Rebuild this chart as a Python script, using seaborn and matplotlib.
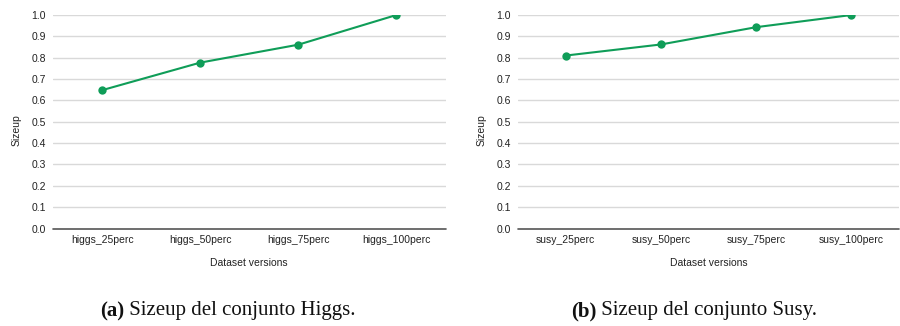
import matplotlib
matplotlib.use("Agg")
import matplotlib.pyplot as plt
import seaborn as sns
import pandas as pd

# Sizeup values per dataset version
higgs_versions = ["higgs_25perc", "higgs_50perc", "higgs_75perc", "higgs_100perc"]
higgs_sizeup = [0.648, 0.777, 0.861, 1.0]

susy_versions = ["susy_25perc", "susy_50perc", "susy_75perc", "susy_100perc"]
susy_sizeup = [0.810, 0.862, 0.943, 1.0]

y_ticks = [0.0, 0.1, 0.2, 0.3, 0.4, 0.5, 0.6, 0.7, 0.8, 0.9, 1.0]
captions = [("(a)", " Sizeup del conjunto Higgs."), ("(b)", " Sizeup del conjunto Susy.")]

sns.set_theme(style="white")
plt.rcParams["font.family"] = ["Liberation Sans", "DejaVu Sans"]

GREEN = "#0f9d58"
GRID = "#d9d9d9"
TEXT = "#222222"
SERIF = ["Liberation Serif", "DejaVu Serif"]

fig = plt.figure(figsize=(9, 3.26), dpi=100)
axes_boxes = [
    [0.059, 0.299, 0.436, 0.655],
    [0.5756, 0.299, 0.4234, 0.655],
]
panels = [(higgs_versions, higgs_sizeup), (susy_versions, susy_sizeup)]

for box, (versions, values) in zip(axes_boxes, panels):
    ax = fig.add_axes(box)
    df = pd.DataFrame({"version": versions, "sizeup": values})
    sns.lineplot(data=df, x="version", y="sizeup", ax=ax, color=GREEN,
                 linewidth=1.5, marker="o", markersize=6,
                 markeredgewidth=0, sort=False)
    ax.set_xlim(-0.5, len(versions) - 0.5)
    ax.set_ylim(0, 1.0)
    ax.set_yticks(y_ticks)
    ax.set_yticklabels([f"{t:.1f}" for t in y_ticks], fontsize=7.5, color=TEXT)
    ax.tick_params(axis="x", labelsize=7.5, colors=TEXT, length=0, pad=5)
    ax.tick_params(axis="y", length=0, pad=5)
    for t in y_ticks[1:]:
        ax.axhline(t, color=GRID, linewidth=1, zorder=0)
    ax.axhline(0, color="#555555", linewidth=1.2, zorder=1, clip_on=False)
    for s in ax.spines.values():
        s.set_visible(False)
    ax.set_xlabel("Dataset versions", fontsize=7.5, color=TEXT, labelpad=9)
    ax.set_ylabel("Sizeup", fontsize=7.5, color=TEXT, labelpad=7)
    ax.yaxis.label.set_y(0.46)

# Sub-figure captions: bold tag followed by plain text, centred under each panel
renderer = fig.canvas.get_renderer()
cap_centres = [228, 694]
cap_y = 1 - 311 / 326
for cx, (tag, text) in zip(cap_centres, captions):
    t1 = fig.text(0, cap_y, tag, fontsize=15, fontweight="bold", family=SERIF,
                  ha="left", va="center", color="#111111")
    t2 = fig.text(0, cap_y, text, fontsize=15, family=SERIF,
                  ha="left", va="center", color="#111111")
    w1 = t1.get_window_extent(renderer).width
    w2 = t2.get_window_extent(renderer).width
    left = cx - (w1 + w2) / 2
    t1.set_x(left / 900)
    t2.set_x((left + w1) / 900)

fig.savefig("out.png", dpi=100)
